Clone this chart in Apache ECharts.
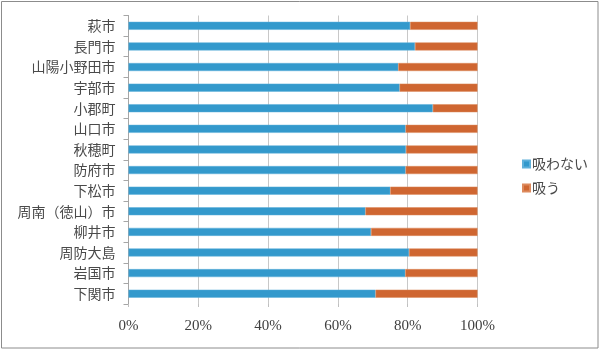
<!DOCTYPE html>
<html>
<head>
<meta charset="utf-8">
<script src="https://cdn.jsdelivr.net/npm/echarts@6/dist/echarts.min.js"></script>
<style>
  html, body { margin: 0; padding: 0; background: #fff; }
  #chart { width: 600px; height: 350px; }
</style>
</head>
<body>
<div id="chart"></div>
<script>
// Municipalities, top to bottom
const cities = ['萩市', '長門市', '山陽小野田市', '宇部市', '小郡町', '山口市', '秋穂町',
  '防府市', '下松市', '周南（徳山）市', '柳井市', '周防大島', '岩国市', '下関市'];
// Share (%) answering 吸わない
const nonSmokers = [80.7, 82.1, 77.3, 77.7, 87.2, 79.4, 79.5, 79.4, 75.0, 67.9, 69.5, 80.4, 79.3, 70.8];
// Share (%) answering 吸う
const smokers = [19.3, 17.9, 22.7, 22.3, 12.8, 20.6, 20.5, 20.6, 25.0, 32.1, 30.5, 19.6, 20.7, 29.2];
const seriesNames = ['吸わない', '吸う'];
const xTicks = [0, 20, 40, 60, 80, 100];

const jp = '"Noto Sans CJK JP", "Noto Sans", sans-serif';
const chart = echarts.init(document.getElementById('chart'), null, { renderer: 'canvas' });

chart.setOption({
  animation: false,
  backgroundColor: '#ffffff',
  graphic: [{
    type: 'rect',
    shape: { x: 1.5, y: 1.5, width: 596.5, height: 346.5 },
    style: { fill: 'none', stroke: '#8c8c8c', lineWidth: 1 },
    silent: true
  }],
  grid: { left: 128.5, right: 122.5, top: 15.5, bottom: 46, containLabel: false },
  legend: {
    orient: 'vertical',
    left: 517,
    top: 152,
    itemWidth: 7,
    itemHeight: 7,
    itemGap: 10,
    icon: 'rect',
    data: seriesNames,
    textStyle: { fontFamily: jp, fontSize: 14, color: '#4a4a4a', padding: [0, 0, 0, -3] }
  },
  xAxis: {
    type: 'value',
    min: xTicks[0],
    max: xTicks[xTicks.length - 1],
    interval: xTicks[1] - xTicks[0],
    axisLine: { show: false },
    axisTick: { show: true, length: 3, lineStyle: { color: '#bfbfbf' } },
    splitLine: { show: true, lineStyle: { color: '#c8c8c8', width: 1 } },
    axisLabel: {
      margin: 15,
      fontFamily: '"Liberation Serif", "DejaVu Serif", serif',
      fontSize: 15,
      color: '#404040',
      formatter: v => v + '%'
    }
  },
  yAxis: {
    type: 'category',
    inverse: true,
    data: cities,
    axisLine: { show: true, lineStyle: { color: '#a6a6a6' } },
    axisTick: { show: true, length: 5, inside: false, lineStyle: { color: '#a6a6a6' } },
    splitLine: { show: false },
    axisLabel: { margin: 13, fontFamily: jp, fontSize: 14, color: '#4a4a4a' }
  },
  series: [
    {
      name: seriesNames[0],
      type: 'bar',
      stack: 'total',
      barWidth: 8,
      data: nonSmokers,
      itemStyle: { color: '#3399cc', borderColor: '#5fb0da', borderWidth: 0.5 }
    },
    {
      name: seriesNames[1],
      type: 'bar',
      stack: 'total',
      barWidth: 8,
      data: smokers,
      itemStyle: { color: '#cf6631', borderColor: '#dd8a5d', borderWidth: 0.5 }
    }
  ]
});
</script>
</body>
</html>
